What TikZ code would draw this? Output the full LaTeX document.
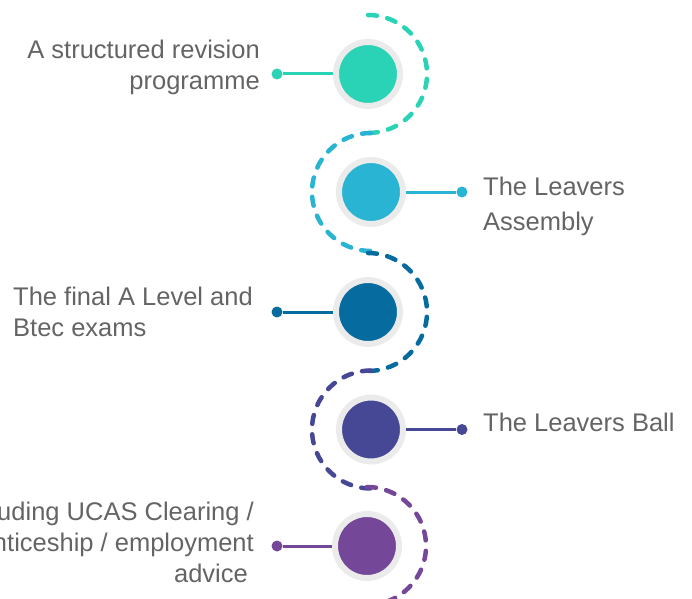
\documentclass[tikz,border=0pt]{standalone}
\usepackage{fontspec}
\setmainfont{Liberation Sans}
\definecolor{mint}{RGB}{42,211,181}
\definecolor{sky}{RGB}{42,180,212}
\definecolor{ocean}{RGB}{6,107,158}
\definecolor{indigo}{RGB}{70,72,150}
\definecolor{plum}{RGB}{116,71,152}
\definecolor{ringgrey}{RGB}{235,235,235}
\definecolor{labelgrey}{RGB}{100,100,100}

\begin{document}
\begin{tikzpicture}[x=1pt,y=1pt,
	stage/.style={circle,fill=#1,draw=ringgrey,line width=6pt,minimum size=64pt,inner sep=0pt},
	knob/.style={circle,fill=#1,minimum size=11pt,inner sep=0pt},
	stem/.style={draw=#1,line width=3pt},
	trail/.style={draw=#1,line width=4.5pt,dash pattern=on 9pt off 10.5pt,line cap=round},
	lbl/.style={text=labelgrey,inner sep=0pt,font=\fontsize{25.5}{#1}\selectfont},
	lbl/.default=31]
\useasboundingbox (0,0) rectangle (692,598);

\path (368,524) node[stage=mint] (revision) {}
		(371,406) node[stage=sky] (assembly) {}
		(368,286) node[stage=ocean] (exams) {}
		(371,168.5) node[stage=indigo] (ball) {}
		(367,52) node[stage=plum] (results) {}
		(277,524) node[knob=mint] (revisionknob) {}
		(462,406) node[knob=sky] (assemblyknob) {}
		(277,286) node[knob=ocean] (examsknob) {}
		(462,168.5) node[knob=indigo] (ballknob) {}
		(277,52) node[knob=plum] (resultsknob) {}
		(260,558) node[lbl,anchor=north east,align=right] (revisiontext) {A structured revision\\programme}
		(483,421) node[lbl=35,anchor=north west,align=left] (assemblytext) {The Leavers\\Assembly}
		(13,311) node[lbl,anchor=north west,align=left] (examstext) {The final A Level and\\Btec exams}
		(483,185) node[lbl,anchor=north west] (balltext) {The Leavers Ball}
		(254,96) node[lbl,anchor=north east,align=right] (resultstext) {including UCAS Clearing /\\apprenticeship / employment\\advice\hspace*{6pt}}
		;

\draw [stem=mint] (node cs:name=revisionknob) -- (node cs:name=revision);
\draw [stem=sky] (node cs:name=assemblyknob) -- (node cs:name=assembly);
\draw [stem=ocean] (node cs:name=examsknob) -- (node cs:name=exams);
\draw [stem=indigo] (node cs:name=ballknob) -- (node cs:name=ball);
\draw [stem=plum] (node cs:name=resultsknob) -- (node cs:name=results);

\draw [trail=mint] ([yshift=59pt]revision.center) arc[start angle=90,end angle=-90,radius=59pt];
\draw [trail=sky] ([yshift=59pt]assembly.center) arc[start angle=90,end angle=270,radius=59pt];
\draw [trail=ocean] ([yshift=59pt]exams.center) arc[start angle=90,end angle=-90,radius=59pt];
\draw [trail=indigo] ([yshift=59pt]ball.center) arc[start angle=90,end angle=270,radius=59pt];
\draw [trail=plum] ([yshift=59pt]results.center) arc[start angle=90,end angle=-90,radius=59pt];
\end{tikzpicture}
\end{document}
